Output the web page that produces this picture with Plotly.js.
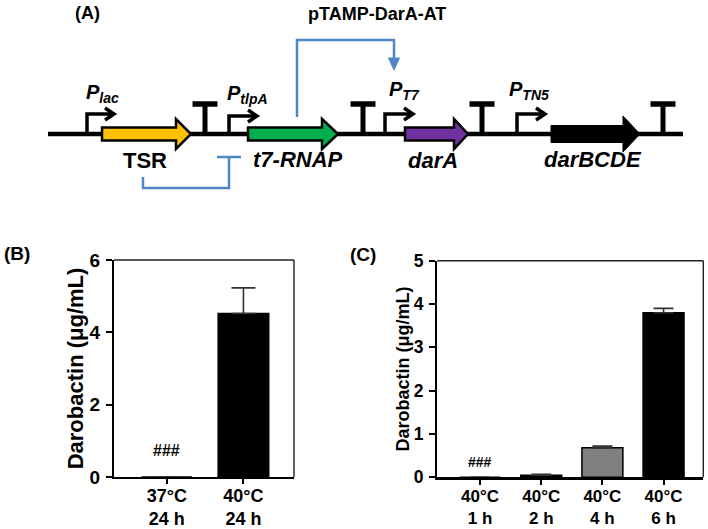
<!DOCTYPE html>
<html>
<head>
<meta charset="utf-8">
<script src="https://cdn.plot.ly/plotly-3.0.1.min.js"></script>
<style>html,body{margin:0;padding:0;background:#fff;}#chart{width:708px;height:529px;}</style>
</head>
<body>
<div id="chart"></div>
<script>
// ---------- data ----------
const catsB = ['37°C<br>24 h', '40°C<br>24 h'];
const valsB = [0, 4.52];
const errB = [null, 0.71];
const colorsB = ['#000000', '#000000'];

const catsC = ['40°C<br>1 h', '40°C<br>2 h', '40°C<br>4 h', '40°C<br>6 h'];
const valsC = [0, 0.05, 0.68, 3.80];
const errC = [null, 0.02, 0.04, 0.10];
const colorsC = ['#000000', '#000000', '#808080', '#000000'];

const sigText = '###';
const yTitle = 'Darobactin (μg/mL)';
const plasmidName = 'pTAMP-DarA-AT';
const panelLabels = ['(A)', '(B)', '(C)'];

// ---------- layout helpers ----------
const W = 708, H = 529;
const FONT = 'Liberation Sans, Arial, Helvetica, sans-serif';
const px = x => x / W;
const py = y => 1 - y / H;

const traces = [
  {
    type: 'bar', x: catsB, y: valsB, xaxis: 'x', yaxis: 'y', width: 0.66,
    marker: {color: colorsB, line: {color: '#000', width: 1.5}},
    error_y: {type: 'data', symmetric: false, array: errB, arrayminus: errB.map(() => 0),
      color: '#333', thickness: 1.6, width: 12},
    hoverinfo: 'skip', showlegend: false
  },
  {
    type: 'bar', x: catsC, y: valsC, xaxis: 'x2', yaxis: 'y2', width: 0.67,
    marker: {color: colorsC, line: {color: '#000', width: 1.5}},
    error_y: {type: 'data', symmetric: false, array: errC, arrayminus: errC.map(() => 0),
      color: '#333', thickness: 1.6, width: 10},
    hoverinfo: 'skip', showlegend: false
  }
];

function yax(domain, range, dtick, tsize, fsize, anchor) {
  return {
    domain: domain, range: range, dtick: dtick, anchor: anchor, showgrid: false, zeroline: false,
    showline: true, linewidth: 2.2, linecolor: '#000', mirror: false,
    ticks: 'outside', ticklen: 6, tickwidth: 2, tickcolor: '#000',
    tickprefix: '<b>', ticksuffix: '</b>', ticklabelstandoff: 2,
    tickfont: {family: FONT, size: tsize, color: '#000', weight: 'bold'},
    title: {text: '<b>' + yTitle + '</b>', font: {family: FONT, size: fsize, color: '#000', weight: 'bold'}, standoff: 0},
    automargin: false, fixedrange: true
  };
}
function xax(domain, range, anchor, tsize, standoff) {
  return {
    domain: domain, range: range, anchor: anchor, type: 'category',
    showgrid: false, zeroline: false,
    showline: true, linewidth: 2.2, linecolor: '#000', mirror: false,
    ticks: 'outside', ticklen: 5, tickwidth: 2, tickcolor: '#000',
    tickfont: {family: FONT, size: tsize, color: '#000', weight: 'bold'},
    ticklabelstandoff: standoff,
    automargin: false, fixedrange: true
  };
}

// ---------- diagram (panel A) in paper coordinates (given in pixels, converted) ----------
const BB = 134;           // backbone level
const shapes = [];
const blue = '#4F86C6';
const pt = (x, y) => `${px(x).toFixed(5)} ${py(y).toFixed(5)}`;
function pathOf(points, close) {
  return points.map((p, i) => (i ? 'L ' : 'M ') + pt(p[0], p[1])).join(' ') + (close ? ' Z' : '');
}
const L = (x0, y0, x1, y1, w, c) => shapes.push({type: 'line', xref: 'paper', yref: 'paper',
  x0: px(x0), y0: py(y0), x1: px(x1), y1: py(y1), line: {color: c || '#000', width: w}});
const P = (points, close, lw, lc, fill) => shapes.push({type: 'path', xref: 'paper', yref: 'paper',
  path: pathOf(points, close), line: {color: lc, width: lw}, fillcolor: fill || 'rgba(0,0,0,0)'});

// thin top / right frame lines of panels B and C
[['x', 'y'], ['x2', 'y2']].forEach(([xa, ya]) => {
  shapes.push({type: 'line', xref: xa + ' domain', yref: ya + ' domain', x0: 0, x1: 1, y0: 1, y1: 1, line: {color: '#222', width: 1.4}});
  shapes.push({type: 'line', xref: xa + ' domain', yref: ya + ' domain', x0: 1, x1: 1, y0: 0, y1: 1, line: {color: '#222', width: 1.4}});
});

// backbone
L(48, BB, 683, BB, 4.5);
// terminators
[205, 363, 482, 663].forEach(x => { L(x, BB, x, 104, 5); L(x - 12.5, 104, x + 12.5, 104, 5.5); });
// promoters
[[87, 114, 114], [229, 116, 257], [385, 114, 413], [517, 114, 545]].forEach(([x, yt, xt]) => {
  P([[x, BB], [x, yt], [xt - 2, yt]], false, 3.5, '#000');
  P([[xt - 9, yt - 6], [xt, yt], [xt - 9, yt + 6]], false, 3.5, '#000');
});
// genes
function gene(x0, xh, x1, hb, hh, fill, lw) {
  P([[x0, BB - hb], [xh, BB - hb], [xh, BB - hh], [x1, BB], [xh, BB + hh], [xh, BB + hb], [x0, BB + hb]], true, lw, '#000', fill);
}
gene(102, 176, 191, 6.5, 15, '#FFC000', 2.5);
gene(248, 322, 338, 6.5, 15, '#00B050', 2.5);
gene(405, 454, 468, 6.5, 15, '#7030A0', 2.5);
gene(551, 623, 640, 8.5, 18, '#000000', 1);
// regulatory lines
P([[297, 117], [297, 40], [394, 40], [394, 60]], false, 2.5, blue);
P([[388.5, 58], [399.5, 58], [394, 70]], true, 1, blue, blue);
P([[143, 177], [143, 188], [229, 188], [229, 157]], false, 2.5, blue);
L(217, 157, 241, 157, 2.5, blue);

const ann = [];
const A = (x, y, text, size, xanchor) => ann.push({
  xref: 'paper', yref: 'paper', x: px(x), y: py(y), text, showarrow: false,
  xanchor: xanchor || 'center', yanchor: 'middle',
  font: {family: FONT, size, color: '#000'}
});

A(87, 13, '<b>' + panelLabels[0] + '</b>', 18);
A(377, 14, '<b>' + plasmidName + '</b>', 18);
A(84, 93, '<b><i>P<sub>lac</sub></i></b>', 20, 'left');
A(225, 94, '<b><i>P<sub>tlpA</sub></i></b>', 20, 'left');
A(387, 91, '<b><i>P<sub>T7</sub></i></b>', 20, 'left');
A(507, 91, '<b><i>P<sub>TN5</sub></i></b>', 20, 'left');
A(145, 160, '<b>TSR</b>', 22);
A(298, 159, '<b><i>t7-RNAP</i></b>', 22);
A(433, 160, '<b><i>darA</i></b>', 22);
A(593, 159, '<b><i>darBCDE</i></b>', 22);
A(17, 253, '<b>' + panelLabels[1] + '</b>', 19);
A(363, 255, '<b>' + panelLabels[2] + '</b>', 19);

// significance marks on the data axes
ann.push({xref: 'x', yref: 'y', x: catsB[0], y: 0.74, text: '<b>' + sigText + '</b>', showarrow: false,
  font: {family: FONT, size: 16, color: '#000'}});
ann.push({xref: 'x2', yref: 'y2', x: catsC[0], y: 0.35, text: '<b>' + sigText + '</b>', showarrow: false,
  font: {family: FONT, size: 14, color: '#000'}});

const layout = {
  width: W, height: H, margin: {l: 0, r: 0, t: 0, b: 0},
  paper_bgcolor: '#fff', plot_bgcolor: '#fff', showlegend: false,
  font: {family: FONT, color: '#000'},
  xaxis: xax([px(114), px(294)], [-0.69, 1.66], 'y', 18, -4),
  yaxis: yax([py(477), py(260)], [0, 6], 2, 19, 22, 'x'),
  xaxis2: xax([px(437.3), px(703.3)], [-0.70, 3.65], 'y2', 17, -3),
  yaxis2: yax([py(477.3), py(260.7)], [0, 5], 1, 17.5, 18, 'x2'),
  shapes: shapes, annotations: ann
};

Plotly.newPlot('chart', traces, layout, {staticPlot: true, displayModeBar: false});
</script>
</body>
</html>
